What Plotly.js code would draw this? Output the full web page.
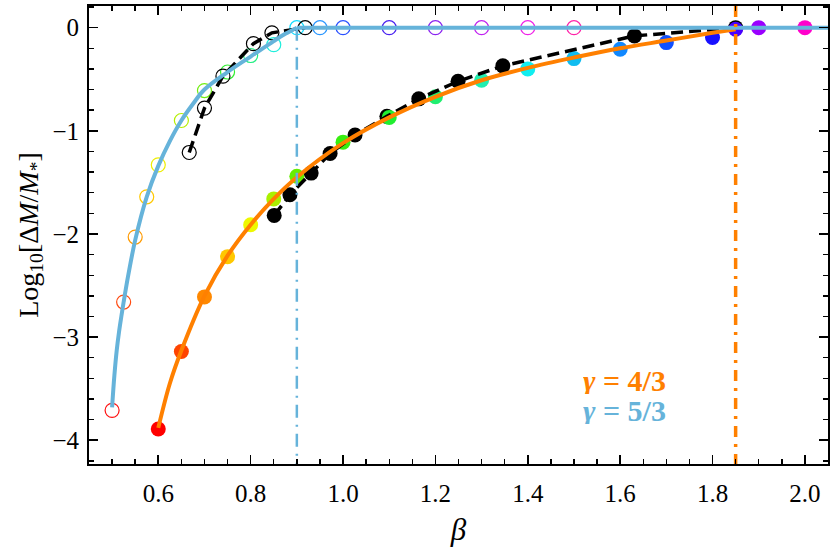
<!DOCTYPE html>
<html>
<head>
<meta charset="utf-8">
<script src="https://cdn.plot.ly/plotly-3.0.1.min.js"></script>
<style>
  html, body { margin: 0; padding: 0; background: #fff; }
  #myPlot { width: 830px; height: 554px; }
</style>
</head>
<body>
<div id="myPlot"></div>
<script>
// gamma = 5/3 simulations (open coloured circles)
var beta53 = [0.5, 0.525, 0.55, 0.575, 0.6, 0.65, 0.7, 0.75, 0.8, 0.85, 0.9, 0.95, 1.0, 1.1, 1.2, 1.3, 1.4, 1.5];
var dm53 = [-3.71, -2.66, -2.03, -1.64, -1.33, -0.9, -0.61, -0.43, -0.27, -0.165, 0, 0, 0, 0, 0, 0, 0, 0];
var colors53 = ['#ff1010', '#ff4a10', '#ff9a00', '#ffc800', '#eeee00', '#b4ee00', '#70ee10', '#30ee30', '#20ee80',
  '#20eedc', '#10dcff', '#2a96ff', '#2a50ff', '#4a22f0', '#8a22f0', '#c022f0', '#f022e8', '#ff22a8'];

// gamma = 5/3 other data set (open black circles)
var betaB53 = [0.667, 0.7, 0.74, 0.806, 0.846, 0.918];
var dmB53 = [-1.21, -0.78, -0.47, -0.155, -0.05, 0];

// gamma = 4/3 simulations (filled coloured circles)
var beta43 = [0.6, 0.65, 0.7, 0.75, 0.8, 0.85, 0.9, 1.0, 1.1, 1.2, 1.3, 1.4, 1.5, 1.6, 1.7, 1.8, 1.85, 1.9, 2.0];
var dm43 = [-3.89, -3.14, -2.61, -2.22, -1.91, -1.66, -1.44, -1.11, -0.87, -0.67, -0.51, -0.4, -0.3, -0.21, -0.145, -0.095, -0.015, 0, 0];
var colors43 = ['#ff0000', '#ff4400', '#ff8800', '#ffc800', '#eef800', '#aaf000', '#66ee00', '#38ee10', '#20ee30',
  '#20ee70', '#20eeb0', '#10eef0', '#10bcf0', '#1088ff', '#1050ff', '#1810ff', '#4800ff', '#9a00ff', '#ff00cc'];

// gamma = 4/3 other data set (filled black circles)
var betaB43 = [0.851, 0.885, 0.931, 0.972, 1.026, 1.095, 1.164, 1.249, 1.346, 1.631, 1.85];
var dmB43 = [-1.82, -1.62, -1.41, -1.22, -1.04, -0.86, -0.69, -0.52, -0.37, -0.08, 0];

// fitted curves
var fitBeta53 = [0.5, 0.505, 0.51, 0.515, 0.52, 0.525, 0.535, 0.55, 0.575, 0.6, 0.625, 0.65, 0.675, 0.7, 0.75, 0.8, 0.85, 0.875, 0.9];
var fitDm53 = [-3.68, -3.37, -3.13, -2.95, -2.8, -2.66, -2.4, -2.06, -1.64, -1.34, -1.1, -0.9, -0.74, -0.6, -0.43, -0.28, -0.13, -0.06, 0];
var fitBeta43 = [0.6, 0.625, 0.65, 0.7, 0.75, 0.8, 0.85, 0.9, 1.0, 1.1, 1.2, 1.3, 1.4, 1.5, 1.6, 1.7, 1.8, 1.85];
var fitDm43 = [-3.88, -3.45, -3.13, -2.6, -2.21, -1.91, -1.66, -1.45, -1.12, -0.87, -0.67, -0.51, -0.39, -0.29, -0.2, -0.125, -0.05, -0.015];

// critical beta values
var betaCrit53 = 0.9;
var betaCrit43 = 1.85;
var betaMax = 2.05;

var xRange = [0.45, 2.05];
var yRange = [-4.23, 0.21];

var blue = '#66b3da';
var orange = '#ff8000';
var serif = '"Liberation Serif", "DejaVu Serif", serif';

var data = [
  {
    x: betaB43, y: dmB43, type: 'scatter', mode: 'markers',
    marker: { color: 'black', size: 15 },
    hoverinfo: 'skip'
  },
  {
    x: beta43, y: dm43, type: 'scatter', mode: 'markers',
    marker: { color: colors43, size: 15 },
    hoverinfo: 'skip'
  },
  {
    x: beta53, y: dm53, type: 'scatter', mode: 'markers',
    marker: { color: 'rgba(0,0,0,0)', size: 14, line: { color: colors53, width: 1.2 } },
    hoverinfo: 'skip'
  },
  {
    x: betaB53, y: dmB53, type: 'scatter', mode: 'markers',
    marker: { color: 'rgba(0,0,0,0)', size: 14, line: { color: 'black', width: 1.2 } },
    hoverinfo: 'skip'
  },
  {
    x: betaB43, y: dmB43, type: 'scatter', mode: 'lines',
    line: { color: 'black', width: 3.5, dash: '12px,6px' },
    hoverinfo: 'skip'
  },
  {
    x: betaB53, y: dmB53, type: 'scatter', mode: 'lines',
    line: { color: 'black', width: 3.5, dash: '12px,6px' },
    hoverinfo: 'skip'
  },
  {
    x: fitBeta43, y: fitDm43, type: 'scatter', mode: 'lines',
    line: { color: orange, width: 4, shape: 'spline', smoothing: 1 },
    hoverinfo: 'skip'
  },
  {
    x: fitBeta53, y: fitDm53, type: 'scatter', mode: 'lines',
    line: { color: blue, width: 4, shape: 'spline', smoothing: 1 },
    hoverinfo: 'skip'
  },
  {
    x: [betaCrit53, betaMax], y: [0, 0], type: 'scatter', mode: 'lines',
    line: { color: blue, width: 4 },
    hoverinfo: 'skip'
  },
  {
    x: [betaCrit53, betaCrit53], y: [0, yRange[0]], type: 'scatter', mode: 'lines',
    line: { color: blue, width: 2.5, dash: '13px,7px,2px,7px' },
    hoverinfo: 'skip'
  },
  {
    x: [betaCrit43, betaCrit43], y: [yRange[1], yRange[0]], type: 'scatter', mode: 'lines',
    line: { color: orange, width: 3.5, dash: '11px,7px,3px,7px' },
    hoverinfo: 'skip'
  }
];

var axisCommon = {
  showline: true,
  mirror: 'allticks',
  linecolor: 'black',
  linewidth: 2,
  ticks: 'inside',
  ticklen: 9,
  tickwidth: 1.6,
  tickcolor: 'black',
  showgrid: false,
  zeroline: false,
  fixedrange: true,
  tickfont: { family: serif, size: 25, color: 'black' }
};

var layout = {
  width: 830,
  height: 554,
  showlegend: false,
  paper_bgcolor: 'white',
  plot_bgcolor: 'white',
  margin: { l: 89, r: 2, t: 6, b: 90 },
  xaxis: Object.assign({}, axisCommon, {
    range: xRange,
    tick0: 0.6,
    dtick: 0.2,
    tickformat: '.1f',
    ticklabelstandoff: 6,
    minor: { dtick: 0.05, ticks: 'inside', ticklen: 5, tickwidth: 1.4, tickcolor: 'black', showgrid: false },
    title: { text: '<i>β</i>', font: { family: serif, size: 31, color: 'black' }, standoff: 12 }
  }),
  yaxis: Object.assign({}, axisCommon, {
    range: yRange,
    tick0: 0,
    dtick: 1,
    ticklabelstandoff: 3,
    minor: { dtick: 0.2, ticks: 'inside', ticklen: 5, tickwidth: 1.4, tickcolor: 'black', showgrid: false },
    title: { text: 'Log<sub>10</sub>[Δ<i>M</i>/<i>M</i><sub>*</sub>]', font: { family: serif, size: 28, color: 'black' }, standoff: 6 }
  }),
  annotations: [
    {
      x: 1.515, y: -3.42, xref: 'x', yref: 'y', xanchor: 'left', yanchor: 'middle',
      text: '<b><i>γ</i> = 4/3</b>', showarrow: false, height: 28, valign: 'middle',
      font: { family: serif, size: 30, color: orange }
    },
    {
      x: 1.515, y: -3.71, xref: 'x', yref: 'y', xanchor: 'left', yanchor: 'middle',
      text: '<b><i>γ</i> = 5/3</b>', showarrow: false, height: 28, valign: 'middle',
      font: { family: serif, size: 30, color: blue }
    }
  ]
};

var options = { displayModeBar: false, staticPlot: true };

Plotly.newPlot('myPlot', data, layout, options);
</script>
</body>
</html>
